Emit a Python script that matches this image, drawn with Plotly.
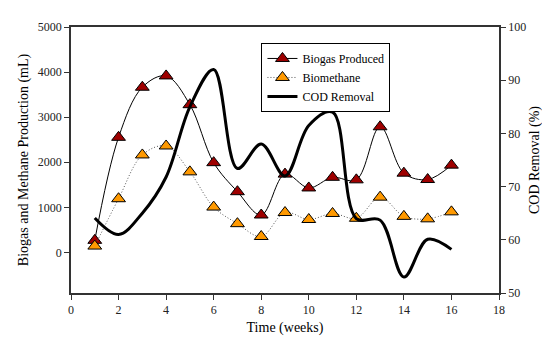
import plotly.graph_objects as go

weeks = list(range(1, 17))
biogas = [268, 2553, 3664, 3915, 3277, 1991, 1347, 830, 1737, 1430, 1666, 1610, 2787, 1758, 1617, 1936]
biomethane = [141, 1191, 2162, 2361, 1787, 1006, 638, 353, 885, 730, 864, 757, 1226, 800, 745, 900]
cod_removal = [64.1, 61.0, 65.0, 71.8, 85.0, 92.0, 73.4, 78.0, 72.0, 81.5, 84.0, 64.0, 63.7, 53.0, 60.1, 58.2]

x_ticks = list(range(0, 19, 2))
y1_ticks = [0, 1000, 2000, 3000, 4000, 5000]
y2_ticks = [50, 60, 70, 80, 90, 100]

FONT = "Liberation Serif, Times New Roman, DejaVu Serif, serif"
AX = "#333333"

fig = go.Figure()
fig.add_trace(go.Scatter(
    x=weeks, y=biogas, name="Biogas Produced", mode="lines+markers",
    line=dict(color="black", width=1, shape="spline", smoothing=1.0),
    marker=dict(symbol="triangle-up", size=12, color="#9e0000",
                line=dict(color="black", width=1)),
))
fig.add_trace(go.Scatter(
    x=weeks, y=biomethane, name="Biomethane", mode="lines+markers",
    line=dict(color="#555555", width=1, dash="1px,2px", shape="spline", smoothing=1.0),
    marker=dict(symbol="triangle-up", size=12, color="#ff9900",
                line=dict(color="black", width=1)),
))
fig.add_trace(go.Scatter(
    x=weeks, y=cod_removal, name="COD Removal", mode="lines", yaxis="y2",
    line=dict(color="black", width=3, shape="spline", smoothing=1.0),
))

fig.update_layout(
    width=550, height=337,
    margin=dict(l=63, r=59, t=13, b=46),
    paper_bgcolor="white", plot_bgcolor="white",
    font=dict(family=FONT, size=12, color="#222222"),
    showlegend=True,
    legend=dict(x=0.445, y=0.94, xanchor="left", yanchor="top",
                bgcolor="white", bordercolor="black", borderwidth=1,
                font=dict(family=FONT, size=12, color="black"),
                tracegroupgap=0, itemwidth=30),
    xaxis=dict(range=[0, 18], tickvals=x_ticks, showgrid=False, zeroline=False,
               showline=True, linecolor=AX, linewidth=1.5, mirror=True,
               ticks="outside", ticklen=5, tickcolor=AX,
               title=dict(text="Time (weeks)", font=dict(family=FONT, size=14, color="black"), standoff=6)),
    yaxis=dict(range=[-900, 5000], tickvals=y1_ticks, showgrid=False, zeroline=False,
               showline=True, linecolor=AX, linewidth=1.5, mirror=True,
               ticks="outside", ticklen=5, tickcolor=AX,
               title=dict(text="Biogas and Methane Production (mL)", font=dict(family=FONT, size=14, color="black"), standoff=6)),
    yaxis2=dict(range=[50, 100], tickvals=y2_ticks, overlaying="y", side="right",
                showgrid=False, zeroline=False, showline=True, linecolor=AX, linewidth=1.5,
                ticks="outside", ticklen=5, tickcolor=AX,
                title=dict(text="COD Removal (%)", font=dict(family=FONT, size=14, color="black"), standoff=4)),
)

fig.write_html("out.html")
